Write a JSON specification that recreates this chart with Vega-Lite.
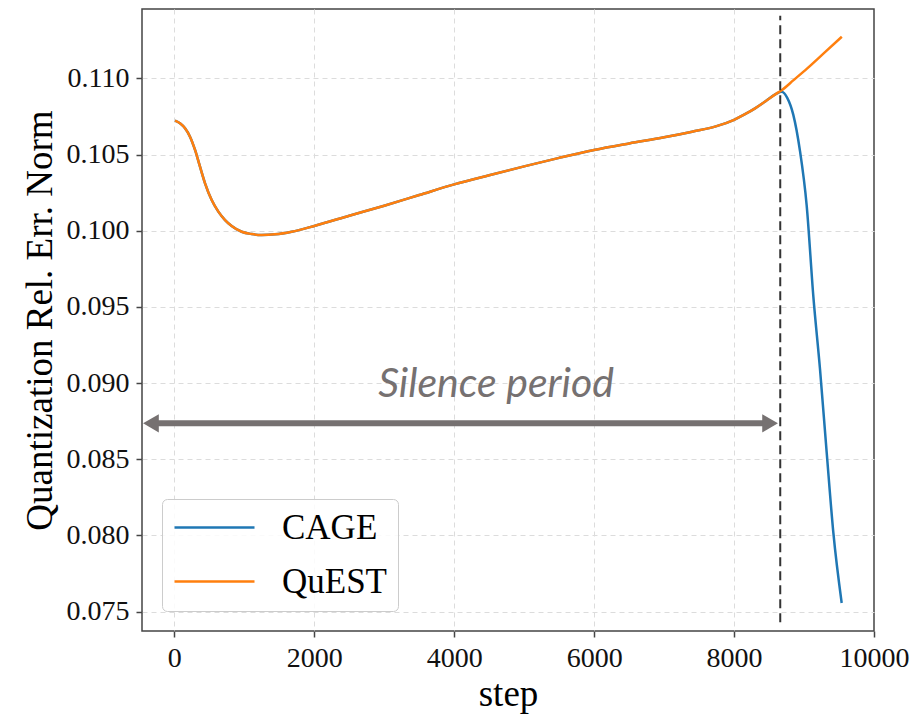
{
  "$schema": "https://vega.github.io/schema/vega-lite/v6.json",
  "autosize": "none",
  "padding": {"left": 142, "top": 9, "right": 38, "bottom": 83},
  "width": 732,
  "height": 622,
  "background": "white",
  "config": {
    "view": {"stroke": "#444444", "strokeWidth": 1.5},
    "axis": {
      "labelFont": "Liberation Serif", "labelFontSize": 28, "labelColor": "#111111",
      "titleFont": "Liberation Serif", "titleFontSize": 37, "titleFontWeight": "normal", "titleColor": "#000000",
      "gridColor": "#dcdcdc", "gridDash": [5, 4], "gridWidth": 1,
      "tickColor": "#444444", "tickSize": 6, "tickWidth": 1.5,
      "domain": false, "labelPadding": 7, "labelFlush": false, "labelOverlap": false
    },
    "legend": {
      "orient": "bottom-left", "offset": 20, "title": null,
      "symbolType": "M-1,0L4,0", "symbolSize": 1024, "symbolStrokeWidth": 2.5,
      "labelFont": "Liberation Serif", "labelFontSize": 35, "labelColor": "#000000",
      "labelOffset": 74, "labelLimit": 0, "padding": 11, "rowPadding": 18,
      "fillColor": "rgba(255,255,255,0.85)", "strokeColor": "#cccccc", "cornerRadius": 5
    }
  },
  "datasets": {
    "curves": [
      {"step": 10, "value": 0.10722, "series": "CAGE"},
      {"step": 81, "value": 0.10705, "series": "CAGE"},
      {"step": 153, "value": 0.10672, "series": "CAGE"},
      {"step": 224, "value": 0.10617, "series": "CAGE"},
      {"step": 296, "value": 0.10530, "series": "CAGE"},
      {"step": 367, "value": 0.10420, "series": "CAGE"},
      {"step": 439, "value": 0.10311, "series": "CAGE"},
      {"step": 534, "value": 0.10201, "series": "CAGE"},
      {"step": 629, "value": 0.10125, "series": "CAGE"},
      {"step": 725, "value": 0.10070, "series": "CAGE"},
      {"step": 820, "value": 0.10031, "series": "CAGE"},
      {"step": 963, "value": 0.09993, "series": "CAGE"},
      {"step": 1106, "value": 0.09978, "series": "CAGE"},
      {"step": 1249, "value": 0.09972, "series": "CAGE"},
      {"step": 1439, "value": 0.09976, "series": "CAGE"},
      {"step": 1677, "value": 0.09993, "series": "CAGE"},
      {"step": 2011, "value": 0.10033, "series": "CAGE"},
      {"step": 2500, "value": 0.10098, "series": "CAGE"},
      {"step": 3000, "value": 0.10164, "series": "CAGE"},
      {"step": 3500, "value": 0.10234, "series": "CAGE"},
      {"step": 4000, "value": 0.10304, "series": "CAGE"},
      {"step": 4500, "value": 0.10364, "series": "CAGE"},
      {"step": 5000, "value": 0.10422, "series": "CAGE"},
      {"step": 5500, "value": 0.10478, "series": "CAGE"},
      {"step": 6000, "value": 0.10530, "series": "CAGE"},
      {"step": 6500, "value": 0.10573, "series": "CAGE"},
      {"step": 7000, "value": 0.10613, "series": "CAGE"},
      {"step": 7400, "value": 0.10650, "series": "CAGE"},
      {"step": 7750, "value": 0.10686, "series": "CAGE"},
      {"step": 8000, "value": 0.10728, "series": "CAGE"},
      {"step": 8150, "value": 0.10763, "series": "CAGE"},
      {"step": 8300, "value": 0.10803, "series": "CAGE"},
      {"step": 8450, "value": 0.10850, "series": "CAGE"},
      {"step": 8600, "value": 0.10898, "series": "CAGE"},
      {"step": 8680, "value": 0.10912, "series": "CAGE"},
      {"step": 8760, "value": 0.10872, "series": "CAGE"},
      {"step": 8846, "value": 0.10762, "series": "CAGE"},
      {"step": 8942, "value": 0.10524, "series": "CAGE"},
      {"step": 9038, "value": 0.10165, "series": "CAGE"},
      {"step": 9133, "value": 0.09569, "series": "CAGE"},
      {"step": 9228, "value": 0.09093, "series": "CAGE"},
      {"step": 9324, "value": 0.08543, "series": "CAGE"},
      {"step": 9419, "value": 0.08018, "series": "CAGE"},
      {"step": 9538, "value": 0.07557, "series": "CAGE"},
      {"step": 10, "value": 0.10722, "series": "QuEST"},
      {"step": 81, "value": 0.10705, "series": "QuEST"},
      {"step": 153, "value": 0.10672, "series": "QuEST"},
      {"step": 224, "value": 0.10617, "series": "QuEST"},
      {"step": 296, "value": 0.10530, "series": "QuEST"},
      {"step": 367, "value": 0.10420, "series": "QuEST"},
      {"step": 439, "value": 0.10311, "series": "QuEST"},
      {"step": 534, "value": 0.10201, "series": "QuEST"},
      {"step": 629, "value": 0.10125, "series": "QuEST"},
      {"step": 725, "value": 0.10070, "series": "QuEST"},
      {"step": 820, "value": 0.10031, "series": "QuEST"},
      {"step": 963, "value": 0.09993, "series": "QuEST"},
      {"step": 1106, "value": 0.09978, "series": "QuEST"},
      {"step": 1249, "value": 0.09972, "series": "QuEST"},
      {"step": 1439, "value": 0.09976, "series": "QuEST"},
      {"step": 1677, "value": 0.09993, "series": "QuEST"},
      {"step": 2011, "value": 0.10033, "series": "QuEST"},
      {"step": 2500, "value": 0.10098, "series": "QuEST"},
      {"step": 3000, "value": 0.10164, "series": "QuEST"},
      {"step": 3500, "value": 0.10234, "series": "QuEST"},
      {"step": 4000, "value": 0.10304, "series": "QuEST"},
      {"step": 4500, "value": 0.10364, "series": "QuEST"},
      {"step": 5000, "value": 0.10422, "series": "QuEST"},
      {"step": 5500, "value": 0.10478, "series": "QuEST"},
      {"step": 6000, "value": 0.10530, "series": "QuEST"},
      {"step": 6500, "value": 0.10573, "series": "QuEST"},
      {"step": 7000, "value": 0.10613, "series": "QuEST"},
      {"step": 7400, "value": 0.10650, "series": "QuEST"},
      {"step": 7750, "value": 0.10686, "series": "QuEST"},
      {"step": 8000, "value": 0.10728, "series": "QuEST"},
      {"step": 8150, "value": 0.10763, "series": "QuEST"},
      {"step": 8300, "value": 0.10803, "series": "QuEST"},
      {"step": 8450, "value": 0.10850, "series": "QuEST"},
      {"step": 8600, "value": 0.10898, "series": "QuEST"},
      {"step": 8680, "value": 0.10922, "series": "QuEST"},
      {"step": 8850, "value": 0.10988, "series": "QuEST"},
      {"step": 9050, "value": 0.11067, "series": "QuEST"},
      {"step": 9300, "value": 0.11172, "series": "QuEST"},
      {"step": 9540, "value": 0.11273, "series": "QuEST"}
    ]
  },
  "encoding": {
    "x": {
      "field": "step", "type": "quantitative",
      "scale": {"domain": [-462, 10000], "nice": false, "zero": false},
      "axis": {
        "title": "step", "values": [0, 2000, 4000, 6000, 8000, 10000], "format": "d", "titlePadding": 4,
        "gridOpacity": {"condition": {"test": "datum.value >= 10000", "value": 0}, "value": 1}
      }
    },
    "y": {
      "field": "value", "type": "quantitative",
      "scale": {"domain": [0.07373, 0.11455], "nice": false, "zero": false},
      "axis": {"title": "Quantization Rel. Err. Norm", "values": [0.075, 0.08, 0.085, 0.09, 0.095, 0.1, 0.105, 0.11], "format": ".3f", "titlePadding": 7}
    }
  },
  "layer": [
    {
      "data": {"name": "curves"},
      "mark": {"type": "line", "strokeWidth": 2.5, "interpolate": "monotone"},
      "encoding": {
        "color": {
          "field": "series", "type": "nominal",
          "scale": {"domain": ["CAGE", "QuEST"], "range": ["#1f77b4", "#ff7f0e"]}
        }
      }
    },
    {
      "data": {"values": [{"step": 8660, "value": 0.0743, "value2": 0.1141}]},
      "mark": {"type": "rule", "color": "#333333", "strokeWidth": 2, "strokeDash": [9, 5]},
      "encoding": {"y2": {"field": "value2"}}
    },
    {
      "data": {"values": [{"step": -334, "step2": 8515, "value": 0.08736}]},
      "mark": {"type": "rule", "color": "#767171", "strokeWidth": 6},
      "encoding": {"x2": {"field": "step2"}}
    },
    {
      "data": {"values": [{"step": -334, "value": 0.08736}]},
      "mark": {"type": "point", "shape": "triangle-left", "filled": true, "size": 330, "color": "#767171", "opacity": 1},
      "encoding": {}
    },
    {
      "data": {"values": [{"step": 8515, "value": 0.08736}]},
      "mark": {"type": "point", "shape": "triangle-right", "filled": true, "size": 330, "color": "#767171", "opacity": 1},
      "encoding": {}
    },
    {
      "data": {"values": [{"step": 4598, "value": 0.08911, "label": "Silence period"}]},
      "mark": {"type": "text", "font": "Lato", "fontStyle": "italic", "fontSize": 41, "color": "#767171", "align": "center", "baseline": "alphabetic"},
      "encoding": {"text": {"field": "label"}}
    }
  ]
}
